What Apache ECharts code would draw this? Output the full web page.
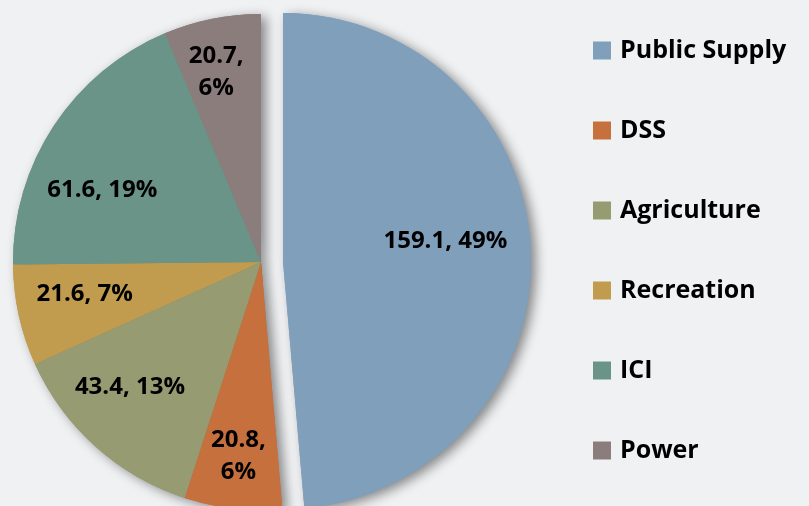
<!DOCTYPE html>
<html>
<head>
<meta charset="utf-8">
<script src="https://cdn.jsdelivr.net/npm/echarts@6/dist/echarts.min.js"></script>
<style>
  html, body { margin: 0; padding: 0; background: #F0F1F3; }
  #chart { width: 809px; height: 506px; }
</style>
</head>
<body>
<div id="chart"></div>
<script>
// water use by sector
var categories = ['Public Supply', 'DSS', 'Agriculture', 'Recreation', 'ICI', 'Power'];
var values = [159.1, 20.8, 43.4, 21.6, 61.6, 20.7];
var colors = ['#7F9FBB', '#C6703D', '#969B72', '#C19C4F', '#6A9488', '#8A7D7B'];
// slices too thin for one line label
var wrapLabels = ['DSS', 'Power'];
// small label shifts (px) to follow the original placement
var labelNudge = [[-19, -12], [-2, 14], [-10, -10], [1, -7], [-7, 28], [-9, -12]];

var myChart = echarts.init(document.getElementById('chart'));

function makeData(transparent) {
  return categories.map(function (name, i) {
    return {
      name: name,
      value: values[i],
      selected: i === 0,
      itemStyle: { color: transparent ? 'rgba(0,0,0,0)' : colors[i] }
    };
  });
}

var center = [261, 262];
var radius = 248;
var baseSeries = {
  type: 'pie',
  center: center,
  startAngle: 90,
  selectedMode: 'single',
  selectedOffset: 22,
  percentPrecision: 0,
  label: { show: false },
  labelLine: { show: false },
  emphasis: { disabled: true },
  select: { itemStyle: { borderWidth: 0 } },
  silent: true
};

var option = {
  backgroundColor: '#F0F1F3',
  animation: false,
  legend: {
    orient: 'vertical',
    left: 588,
    top: 33,
    icon: 'rect',
    itemWidth: 18,
    itemHeight: 18,
    itemGap: 55,
    data: categories,
    textStyle: {
      fontFamily: 'Open Sans',
      fontWeight: 'bold',
      fontSize: 25,
      color: '#000',
      padding: [0, 0, 0, 4]
    }
  },
  series: [
    Object.assign({}, baseSeries, {
      name: 'main',
      z: 2,
      radius: radius,
      data: makeData(false)
    }),
    Object.assign({}, baseSeries, {
      name: 'shadow',
      z: 1,
      radius: radius,
      itemStyle: {
        shadowBlur: 12,
        shadowColor: 'rgba(0,0,0,0.45)',
        shadowOffsetX: 5,
        shadowOffsetY: 3
      },
      data: makeData(false)
    }),
    Object.assign({}, baseSeries, {
      name: 'labels',
      z: 3,
      radius: [radius * 0.44, radius],
      label: {
        show: true,
        position: 'inside',
        fontFamily: 'Open Sans',
        fontWeight: 'bold',
        fontSize: 24,
        lineHeight: 32,
        color: '#000',
        formatter: function (p) {
          var sep = wrapLabels.indexOf(p.name) >= 0 ? ',\n' : ', ';
          return p.value + sep + p.percent + '%';
        }
      },
      labelLayout: function (params) {
        var n = labelNudge[params.dataIndex];
        return { dx: n[0], dy: n[1] };
      },
      data: makeData(true)
    })
  ]
};

option && myChart.setOption(option);
</script>
</body>
</html>
